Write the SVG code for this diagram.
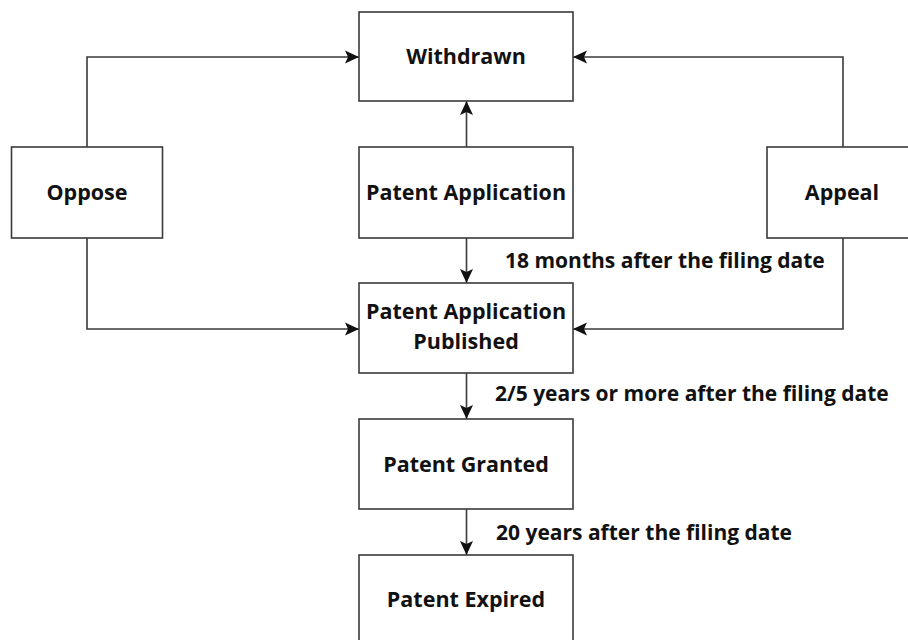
<svg xmlns="http://www.w3.org/2000/svg" width="908" height="640" viewBox="0 0 908 640">
<style>
.box{fill:#fff;stroke:#3a3a3a;stroke-width:1.6}
.t{font-family:"Open Sans","Liberation Sans",sans-serif;font-weight:bold;font-size:21.5px;fill:#111;text-anchor:middle}
.lbl{font-family:"Open Sans","Liberation Sans",sans-serif;font-weight:bold;font-size:21px;fill:#111}
.c{fill:none;stroke:#3a3a3a;stroke-width:1.6}
</style>
<defs>
<marker id="ah" markerUnits="userSpaceOnUse" markerWidth="14" markerHeight="14" viewBox="0 0 14 14" refX="14" refY="7" orient="auto">
<path d="M0,0.5 L14,7 L0,13.5 L3,7 Z" fill="#111"/>
</marker>
</defs>
<rect width="908" height="640" fill="#fff"/>
<g id="connectors">
<path class="c" d="M87,147 V57 H359" marker-end="url(#ah)"/>
<path class="c" d="M87,238 V329 H359" marker-end="url(#ah)"/>
<path class="c" d="M843,147 V57 H573" marker-end="url(#ah)"/>
<path class="c" d="M843,238 V329 H573" marker-end="url(#ah)"/>
<path class="c" d="M466.5,147 V101" marker-end="url(#ah)"/>
<path class="c" d="M466.5,238 V283" marker-end="url(#ah)"/>
<path class="c" d="M466.5,373 V419" marker-end="url(#ah)"/>
<path class="c" d="M466.5,509 V555" marker-end="url(#ah)"/>
<text class="lbl" x="505" y="268">18 months after the filing date</text>
<text class="lbl" x="495" y="401">2/5 years or more after the filing date</text>
<text class="lbl" x="496" y="540">20 years after the filing date</text>
</g>
<g id="withdrawn"><rect class="box" x="359" y="12" width="214" height="89"/><text class="t" x="466" y="64">Withdrawn</text></g>
<g id="oppose"><rect class="box" x="11.5" y="147" width="151" height="91"/><text class="t" x="87" y="200">Oppose</text></g>
<g id="patent-application"><rect class="box" x="359" y="147" width="214" height="91"/><text class="t" x="466" y="200">Patent Application</text></g>
<g id="appeal"><rect class="box" x="767" y="147" width="151" height="91"/><text class="t" x="842" y="200">Appeal</text></g>
<g id="published"><rect class="box" x="359" y="283" width="214" height="90"/><text class="t" x="466" y="319">Patent Application</text><text class="t" x="466" y="349">Published</text></g>
<g id="granted"><rect class="box" x="359" y="419" width="214" height="90"/><text class="t" x="466" y="472">Patent Granted</text></g>
<g id="expired"><rect class="box" x="359" y="555" width="214" height="90"/><text class="t" x="466" y="607">Patent Expired</text></g>
</svg>
